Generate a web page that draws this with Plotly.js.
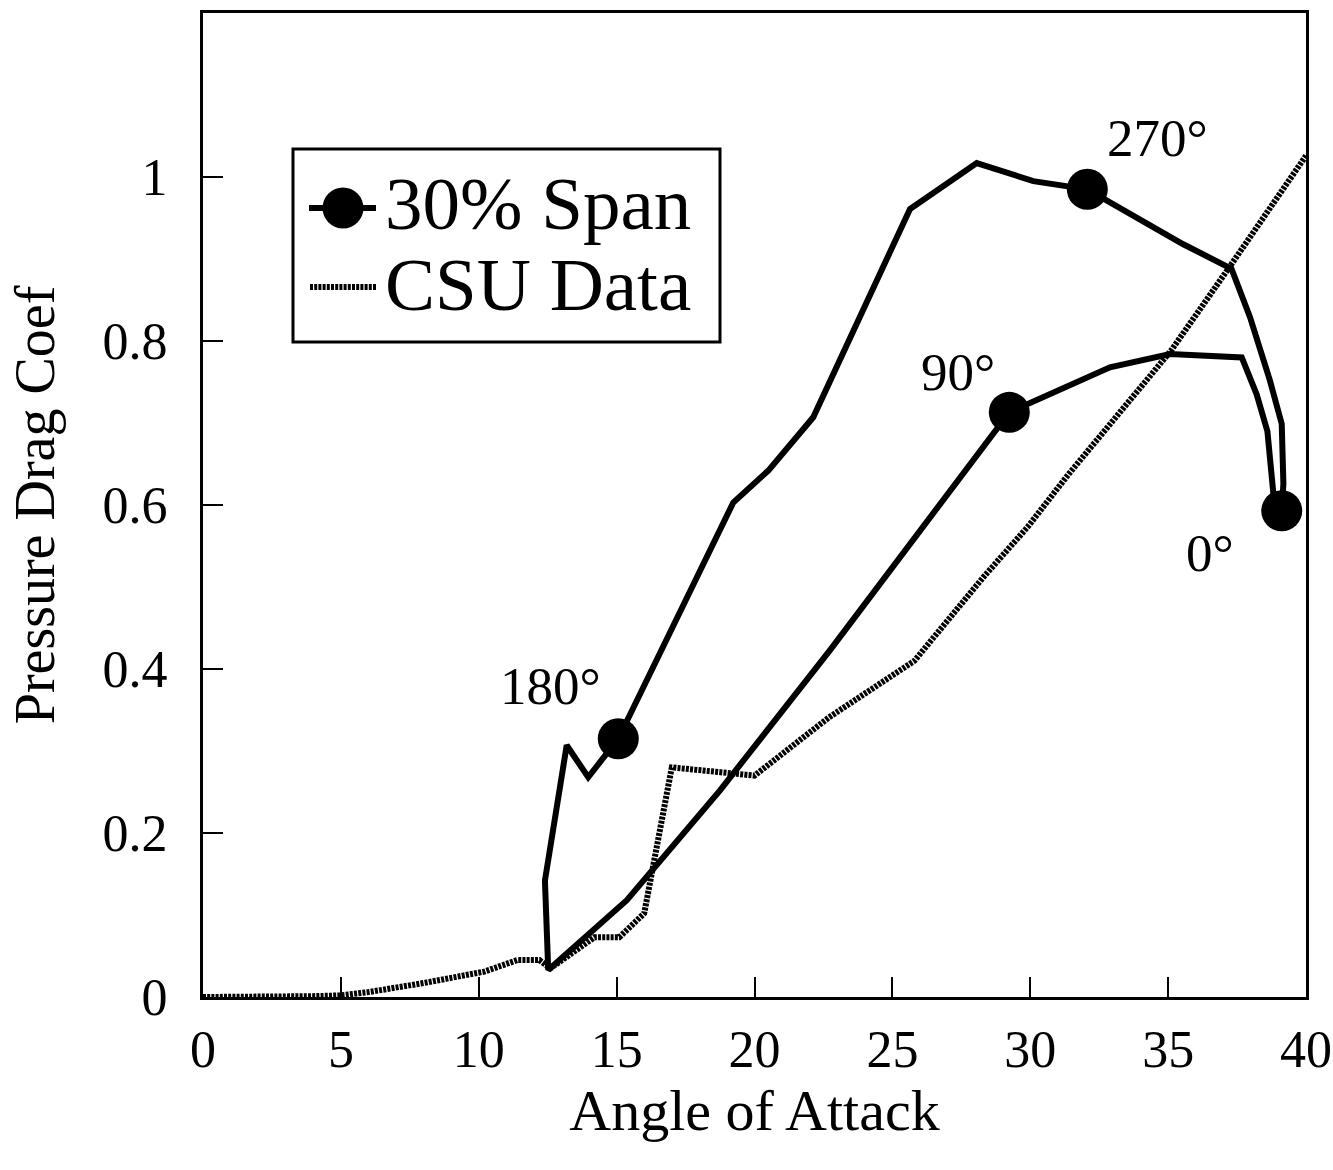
<!DOCTYPE html>
<html>
<head>
<meta charset="utf-8">
<script src="https://cdn.plot.ly/plotly-3.0.1.min.js"></script>
<style>
  html, body { margin: 0; padding: 0; background: #fff; }
  #chart { width: 1333px; height: 1170px; }
</style>
</head>
<body>
<div id="chart"></div>
<script>
// ---- data ----
// CSU Data (pressure drag coefficient vs angle of attack)
const csuAngle = [0, 2, 4, 5, 6, 8, 10.2, 11.4, 12.2, 12.6, 14.2, 15.1, 16.0, 17.0, 20.0, 22.7, 25.8, 28.3, 29.9, 31.4, 35.1, 37.2, 40.0];
const csuDrag  = [0, 0, 0.001, 0.002, 0.006, 0.017, 0.031, 0.045, 0.045, 0.035, 0.073, 0.073, 0.102, 0.280, 0.270, 0.341, 0.410, 0.512, 0.573, 0.638, 0.788, 0.889, 1.026];

// 30% Span loop (one revolution, starting at 0 deg azimuth)
const spanAngle = [39.12, 38.83, 38.60, 38.21, 37.67, 35.07, 32.89, 29.24, 22.74, 18.75, 15.37, 12.52, 12.40, 13.19, 13.97, 15.06, 19.23, 20.50, 22.13, 25.64, 28.06, 30.11, 32.07, 35.55, 37.30, 37.97, 38.69, 39.12, 39.18, 39.12];
const spanDrag  = [0.593, 0.609, 0.690, 0.735, 0.780, 0.784, 0.768, 0.713, 0.423, 0.252, 0.118, 0.033, 0.142, 0.307, 0.268, 0.315, 0.603, 0.642, 0.707, 0.961, 1.017, 0.995, 0.985, 0.918, 0.888, 0.829, 0.752, 0.699, 0.626, 0.593];
// azimuth labels of the marked points ('' = unmarked point)
const spanAzimuth = ['0°', '', '', '', '', '', '', '90°', '', '', '', '', '', '', '', '180°', '', '', '', '', '', '', '270°', '', '', '', '', '', '', ''];

// tick values
const xTicks = [0, 5, 10, 15, 20, 25, 30, 35, 40];
const yTicks = [0, 0.2, 0.4, 0.6, 0.8, 1];

const seriesNames = ['30% Span', 'CSU Data'];
const xTitle = 'Angle of Attack';
const yTitle = 'Pressure Drag Coef';

// ---- layout geometry (pixels) ----
const PAGE_W = 1333, PAGE_H = 1170;
const M = { l: 203, r: 27, t: 13, b: 173 };
const PW = PAGE_W - M.l - M.r, PH = PAGE_H - M.t - M.b;
const px = v => (v - M.l) / PW;          // page x -> paper
const py = v => (PAGE_H - M.b - v) / PH; // page y -> paper

const FONT = '"Liberation Serif", "Times New Roman", Times, serif';
const MARKER = 41;
const CSU_LINE = { color: '#000', width: 6, dash: '3px,1.2px' };

// per-label text offsets from the marker (pixels)
const labelOffset = {
  '0°':   [-72, 42],
  '90°':  [-51, -40],
  '180°': [-68, -53],
  '270°': [70, -51]
};

const traces = [
  {
    x: csuAngle, y: csuDrag, name: seriesNames[1],
    type: 'scatter', mode: 'lines',
    line: CSU_LINE,
    showlegend: false, hoverinfo: 'x+y'
  },
  {
    x: spanAngle, y: spanDrag, name: seriesNames[0],
    type: 'scatter', mode: 'lines+markers',
    line: { color: '#000', width: 6 },
    marker: { color: '#000', opacity: 1, size: spanAzimuth.map(a => a ? MARKER : 0), line: { width: 0 } },
    showlegend: false, hoverinfo: 'x+y'
  }
];

const annotations = [];
spanAzimuth.forEach((a, i) => {
  if (!a) return;
  annotations.push({
    x: spanAngle[i], y: spanDrag[i], xref: 'x', yref: 'y',
    text: a, showarrow: true, arrowcolor: 'rgba(0,0,0,0)', arrowwidth: 0.1, arrowhead: 0,
    ax: labelOffset[a][0], ay: labelOffset[a][1],
    font: { family: FONT, size: 53, color: '#000' }
  });
});

// hand-drawn legend (large symbols like the original)
const legendBox = { x0: 293, x1: 720, y0: 149, y1: 342 };
const rows = [
  { y: 208, textY: 203, name: seriesNames[0] },
  { y: 287, textY: 284, name: seriesNames[1] }
];
const shapes = [
  { type: 'rect', xref: 'paper', yref: 'paper',
    x0: px(legendBox.x0), x1: px(legendBox.x1), y0: py(legendBox.y1), y1: py(legendBox.y0),
    line: { color: '#000', width: 3 }, fillcolor: '#fff', layer: 'above' },
  { type: 'line', xref: 'paper', yref: 'paper',
    x0: px(309), x1: px(376), y0: py(rows[0].y), y1: py(rows[0].y),
    line: { color: '#000', width: 6 }, layer: 'above' },
  { type: 'circle', xref: 'paper', yref: 'paper', xsizemode: 'pixel', ysizemode: 'pixel',
    xanchor: px(343), yanchor: py(rows[0].y),
    x0: -MARKER / 2, x1: MARKER / 2, y0: -MARKER / 2, y1: MARKER / 2,
    line: { width: 0 }, fillcolor: '#000', layer: 'above' },
  { type: 'line', xref: 'paper', yref: 'paper',
    x0: px(310), x1: px(376), y0: py(rows[1].y), y1: py(rows[1].y),
    line: CSU_LINE, layer: 'above' }
];
rows.forEach(r => {
  annotations.push({
    xref: 'paper', yref: 'paper', x: px(383), y: py(r.textY),
    xanchor: 'left', yanchor: 'middle', showarrow: false,
    text: r.name, font: { family: FONT, size: 75, color: '#000' }
  });
});

const axisCommon = {
  showline: true, linecolor: '#000', linewidth: 3, mirror: true,
  ticks: 'inside', ticklen: 20, tickwidth: 2, tickcolor: '#000',
  showgrid: false, zeroline: false,
  tickfont: { family: FONT, size: 52, color: '#000' }
};

const layout = {
  width: PAGE_W, height: PAGE_H,
  margin: M,
  paper_bgcolor: '#fff', plot_bgcolor: '#fff',
  showlegend: false,
  font: { family: FONT, color: '#000' },
  xaxis: Object.assign({}, axisCommon, {
    range: [0, 40], tickmode: 'array', tickvals: xTicks, ticktext: xTicks.map(String),
    ticklabelstandoff: 5,
    title: { text: xTitle, font: { family: FONT, size: 58, color: '#000' }, standoff: 4 },
    automargin: false
  }),
  yaxis: Object.assign({}, axisCommon, {
    range: [0, 1.2], tickmode: 'array', tickvals: yTicks, ticktext: yTicks.map(String),
    ticklabelstandoff: 22,
    title: { text: yTitle, font: { family: FONT, size: 56, color: '#000' }, standoff: 30 },
    automargin: false
  }),
  annotations: annotations,
  shapes: shapes
};

Plotly.newPlot('chart', traces, layout, { displayModeBar: false, staticPlot: true });
</script>
</body>
</html>
